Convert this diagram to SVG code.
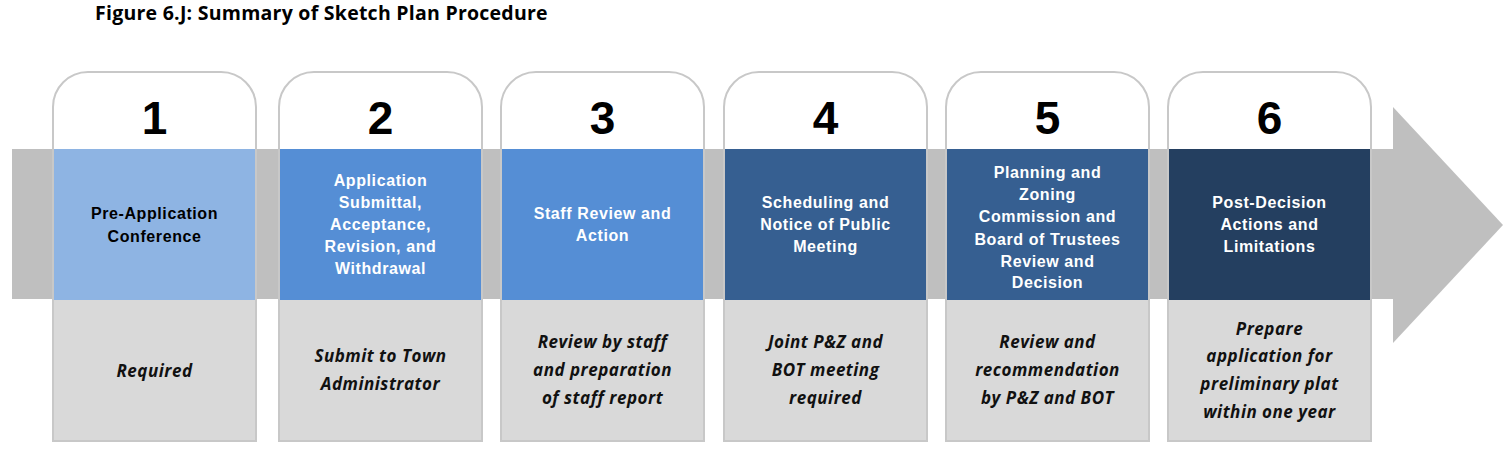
<svg xmlns="http://www.w3.org/2000/svg" width="1506" height="451" viewBox="0 0 1506 451">
<style>
.card{fill:#fff;stroke:#C8C8C8;stroke-width:2}
.low{fill:#D9D9D9}
.num{font-family:"Liberation Sans",Arial,sans-serif;font-weight:bold;font-size:46px;fill:#000;text-anchor:middle}
.lab{font-family:"Liberation Sans",Arial,sans-serif;font-weight:bold;font-size:16px;letter-spacing:0.6px;text-anchor:middle}
.w{fill:#fff}
.k{fill:#000}
.note{font-family:"Open Sans","Liberation Sans",sans-serif;font-weight:bold;font-style:italic;font-size:17px;letter-spacing:0.5px;fill:#111;text-anchor:middle}
.title{font-family:"Open Sans","Liberation Sans",sans-serif;font-weight:bold;font-size:19.5px;letter-spacing:0.25px;fill:#000}
</style>
<text class="title" x="95" y="20">Figure 6.J: Summary of Sketch Plan Procedure</text>
<g id="arrow">
<rect x="12" y="149" width="1382" height="150" fill="#BFBFBF"/>
<polygon points="1393,107 1503,225 1393,343" fill="#BFBFBF"/>
</g>
<g id="step1">
<path class="card" d="M53,441 V107 A35,35 0 0 1 88,72 H221 A35,35 0 0 1 256,107 V441 Z"/>
<rect x="54" y="149" width="201" height="151" fill="#8EB4E3"/>
<rect class="low" x="54" y="300" width="201" height="140"/>
<text class="num" x="154.5" y="134">1</text>
<text class="lab k" x="154.5" y="219">Pre-Application</text>
<text class="lab k" x="154.5" y="242">Conference</text>
<text class="note" x="154.5" y="377">Required</text>
</g>
<g id="step2">
<path class="card" d="M279,441 V107 A35,35 0 0 1 314,72 H447 A35,35 0 0 1 482,107 V441 Z"/>
<rect x="280" y="149" width="201" height="151" fill="#558ED5"/>
<rect class="low" x="280" y="300" width="201" height="140"/>
<text class="num" x="380.5" y="134">2</text>
<text class="lab w" x="380.5" y="186">Application</text>
<text class="lab w" x="380.5" y="208">Submittal,</text>
<text class="lab w" x="380.5" y="230">Acceptance,</text>
<text class="lab w" x="380.5" y="252">Revision, and</text>
<text class="lab w" x="380.5" y="274">Withdrawal</text>
<text class="note" x="380.5" y="362">Submit to Town</text>
<text class="note" x="380.5" y="390">Administrator</text>
</g>
<g id="step3">
<path class="card" d="M501,441 V107 A35,35 0 0 1 536,72 H669 A35,35 0 0 1 704,107 V441 Z"/>
<rect x="502" y="149" width="201" height="151" fill="#558ED5"/>
<rect class="low" x="502" y="300" width="201" height="140"/>
<text class="num" x="602.5" y="134">3</text>
<text class="lab w" x="602.5" y="219">Staff Review and</text>
<text class="lab w" x="602.5" y="241">Action</text>
<text class="note" x="602.5" y="348">Review by staff</text>
<text class="note" x="602.5" y="376">and preparation</text>
<text class="note" x="602.5" y="404">of staff report</text>
</g>
<g id="step4">
<path class="card" d="M724,441 V107 A35,35 0 0 1 759,72 H892 A35,35 0 0 1 927,107 V441 Z"/>
<rect x="725" y="149" width="201" height="151" fill="#365F91"/>
<rect class="low" x="725" y="300" width="201" height="140"/>
<text class="num" x="825.5" y="134">4</text>
<text class="lab w" x="825.5" y="208">Scheduling and</text>
<text class="lab w" x="825.5" y="230">Notice of Public</text>
<text class="lab w" x="825.5" y="252">Meeting</text>
<text class="note" x="825.5" y="348">Joint P&amp;Z and</text>
<text class="note" x="825.5" y="376">BOT meeting</text>
<text class="note" x="825.5" y="404">required</text>
</g>
<g id="step5">
<path class="card" d="M946,441 V107 A35,35 0 0 1 981,72 H1114 A35,35 0 0 1 1149,107 V441 Z"/>
<rect x="947" y="149" width="201" height="151" fill="#365F91"/>
<rect class="low" x="947" y="300" width="201" height="140"/>
<text class="num" x="1047.5" y="134">5</text>
<text class="lab w" x="1047.5" y="178">Planning and</text>
<text class="lab w" x="1047.5" y="200">Zoning</text>
<text class="lab w" x="1047.5" y="222">Commission and</text>
<text class="lab w" x="1047.5" y="245">Board of Trustees</text>
<text class="lab w" x="1047.5" y="267">Review and</text>
<text class="lab w" x="1047.5" y="288">Decision</text>
<text class="note" x="1047.5" y="348">Review and</text>
<text class="note" x="1047.5" y="376">recommendation</text>
<text class="note" x="1047.5" y="404">by P&amp;Z and BOT</text>
</g>
<g id="step6">
<path class="card" d="M1168,441 V107 A35,35 0 0 1 1203,72 H1336 A35,35 0 0 1 1371,107 V441 Z"/>
<rect x="1169" y="149" width="201" height="151" fill="#243F60"/>
<rect class="low" x="1169" y="300" width="201" height="140"/>
<text class="num" x="1269.5" y="134">6</text>
<text class="lab w" x="1269.5" y="208">Post-Decision</text>
<text class="lab w" x="1269.5" y="230">Actions and</text>
<text class="lab w" x="1269.5" y="252">Limitations</text>
<text class="note" x="1269.5" y="335">Prepare</text>
<text class="note" x="1269.5" y="362">application for</text>
<text class="note" x="1269.5" y="390">preliminary plat</text>
<text class="note" x="1269.5" y="418">within one year</text>
</g>
</svg>
